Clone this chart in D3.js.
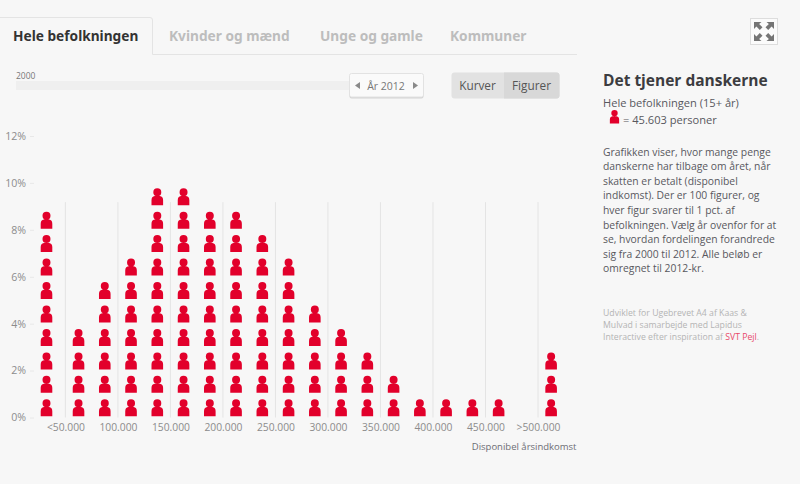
<!DOCTYPE html>
<html lang="da">
<head>
<meta charset="utf-8">
<style>
    html, body { margin: 0; padding: 0; background: #f7f7f7; overflow: hidden; }
    svg { display: block; font-family: "Open Sans", sans-serif; }
    .axis path { display: none; }
    .axis text { fill: #8c8c8c; font-family: "Open Sans", sans-serif; }
    .axis line { stroke: #e8e8e8; }
    .tab { font-family: "Noto Sans", sans-serif; font-size: 13.7px; font-weight: 700; fill: #bdbdbd; }
    .side { fill: #58585e; font-size: 10.35px; }
    .credit { fill: #b4b4b4; font-size: 8.7px; }
</style>
</head>
<body>
<script src="https://d3js.org/d3.v7.min.js"></script>
<script>
    // midpoint of each income bin and how many figures (pct.) stand in it, year 2012
    var binMid = [32000, 62500, 87500, 112500, 137500, 162500, 187500, 212500, 237500, 262500,
                  287500, 312500, 337500, 362500, 387500, 412500, 437500, 462500, 512500];
    var binCount = [9, 4, 6, 7, 10, 10, 9, 9, 8, 7, 5, 4, 3, 2, 1, 1, 1, 1, 3];
    var xTicks = [50000, 100000, 150000, 200000, 250000, 300000, 350000, 400000, 450000, 500000];
    var xLabels = ["<50.000", "100.000", "150.000", "200.000", "250.000", "300.000", "350.000", "400.000", "450.000", ">500.000"];
    var yTicks = [0, 2, 4, 6, 8, 10, 12];
    var tabs = ["Hele befolkningen", "Kvinder og mænd", "Unge og gamle", "Kommuner"];
    var tabX = [13, 169, 320, 450];
    var bodyText = [
        "Grafikken viser, hvor mange penge",
        "danskerne har tilbage om året, når",
        "skatten er betalt (disponibel",
        "indkomst). Der er 100 figurer, og",
        "hver figur svarer til 1 pct. af",
        "befolkningen. Vælg år ovenfor for at",
        "se, hvordan fordelingen forandrede",
        "sig fra 2000 til 2012. Alle beløb er",
        "omregnet til 2012-kr."
    ];
    var creditText = [
        "Udviklet for Ugebrevet A4 af Kaas &",
        "Mulvad i samarbejde med Lapidus"
    ];

    var width = 800, height = 484;
    var svg = d3.select("body").append("svg").attr("width", width).attr("height", height);
    svg.append("rect").attr("width", width).attr("height", height).attr("fill", "#f7f7f7");

    var x = d3.scaleLinear().domain([50000, 500000]).range([65.4, 538]);
    var y = d3.scaleLinear().domain([0, 12]).range([417.5, 136]);

    // person icon, origin at bottom centre
    var person = "M-5.8,0 V-5 Q-5.8,-8.6 -2.6,-9.2 H2.6 Q5.8,-8.6 5.8,-5 V0 Z " +
                 "M-4,-13 A4,4 0 1 1 4,-13 A4,4 0 1 1 -4,-13 Z";

    // tabs
    svg.append("path").attr("d", "M152.5,54.5 H577").attr("stroke", "#e4e4e4").attr("fill", "none");
    svg.append("path").attr("d", "M0,17.5 H150 Q152.5,17.5 152.5,20 V54.5")
        .attr("stroke", "#e4e4e4").attr("fill", "none");
    svg.selectAll(".tab").data(tabs).enter().append("text")
        .attr("class", "tab")
        .attr("x", function(d, i) { return tabX[i]; })
        .attr("y", 41)
        .style("fill", function(d, i) { return i == 0 ? "#333" : null; })
        .text(function(d) { return d; });

    // year slider
    svg.append("rect").attr("x", 16).attr("y", 81).attr("width", 334).attr("height", 9).attr("fill", "#efefef");
    svg.append("text").attr("x", 16).attr("y", 79).attr("font-size", 8.5).attr("fill", "#777").text("2000");
    svg.append("rect").attr("x", 349.5).attr("y", 74.5).attr("width", 74).attr("height", 24).attr("rx", 2)
        .attr("fill", "#d4d4d4");
    svg.append("rect").attr("x", 349.5).attr("y", 73.5).attr("width", 74).attr("height", 23.5).attr("rx", 2)
        .attr("fill", "#fafafa").attr("stroke", "#e2e2e2");
    svg.append("text").attr("x", 386).attr("y", 89.5).attr("text-anchor", "middle")
        .attr("font-size", 10.5).attr("fill", "#777").text("År 2012");
    svg.append("path").attr("d", "M360,82 V89 L355,85.5 Z").attr("fill", "#8a8a8a");
    svg.append("path").attr("d", "M413,82 V89 L418,85.5 Z").attr("fill", "#8a8a8a");

    // Kurver / Figurer toggle
    svg.append("rect").attr("x", 451.5).attr("y", 72.5).attr("width", 108).attr("height", 26).attr("rx", 3).attr("fill", "#e2e2e2");
    svg.append("path").attr("d", "M504,72.5 H556.5 Q559.5,72.5 559.5,75.5 V95.5 Q559.5,98.5 556.5,98.5 H504 Z").attr("fill", "#d8d8d8");
    svg.append("text").attr("x", 477.5).attr("y", 90).attr("text-anchor", "middle").attr("font-size", 11.8).attr("fill", "#555").text("Kurver");
    svg.append("text").attr("x", 531.5).attr("y", 90).attr("text-anchor", "middle").attr("font-size", 11.8).attr("fill", "#555").text("Figurer");

    // axes
    var yAxis = d3.axisLeft(y).tickValues(yTicks).tickSize(4).tickPadding(4)
        .tickFormat(function(d) { return d + "%"; });
    svg.append("g").attr("class", "axis").attr("font-size", 10.6).attr("transform", "translate(34,0)").call(yAxis)
        .attr("font-size", 10.6);

    var xAxis = d3.axisBottom(x).tickValues(xTicks).tickSize(0).tickPadding(6)
        .tickFormat(function(d, i) { return xLabels[i]; });
    svg.append("g").attr("class", "axis").attr("transform", "translate(0,418)").call(xAxis)
        .attr("font-size", 10.3);

    svg.append("g").selectAll("line").data(xTicks).enter().append("line")
        .attr("x1", function(d) { return x(d); })
        .attr("x2", function(d) { return x(d); })
        .attr("y1", y(9.18))
        .attr("y2", y(0))
        .attr("stroke", "#e4e4e4");

    svg.append("text").attr("x", 576.5).attr("y", 449.5).attr("text-anchor", "end")
        .attr("font-size", 9.5).attr("fill", "#6d6d75").text("Disponibel årsindkomst");

    // one figure per percent, stacked in each bin
    var figures = [];
    binMid.forEach(function(mid, b) {
        d3.range(binCount[b]).forEach(function(i) {
            figures.push({ mid: mid, row: i });
        });
    });
    svg.append("g").selectAll("path").data(figures).enter().append("path")
        .attr("d", person)
        .attr("fill", "#e2002b")
        .attr("transform", function(d) {
            return "translate(" + x(d.mid) + "," + (y(d.row) - 1.2) + ")";
        });

    // expand button
    svg.append("rect").attr("x", 750.5).attr("y", 18.5).attr("width", 27).attr("height", 26)
        .attr("fill", "#fbfbfb").attr("stroke", "#ddd");
    [[-1, -1], [1, -1], [-1, 1], [1, 1]].forEach(function(c) {
        var g = svg.append("g").attr("transform", "translate(764,31.5) scale(" + c[0] + "," + c[1] + ")");
        g.append("path").attr("d", "M10,9.5 V2.5 L7.6,4.9 L4.2,1.5 L1.5,4.2 L4.9,7.6 L2.5,9.5 Z")
            .attr("fill", "#757575");
    });

    // side panel
    svg.append("text").attr("x", 603).attr("y", 86).attr("font-size", 15.5).attr("font-weight", 700)
        .attr("fill", "#3c3c40").text("Det tjener danskerne");
    svg.append("text").attr("class", "side").attr("x", 603).attr("y", 107).style("font-size", "11.1px")
        .text("Hele befolkningen (15+ år)");
    svg.append("path").attr("d", person).attr("fill", "#e2002b")
        .attr("transform", "translate(614.5,123.5) scale(0.8)");
    svg.append("text").attr("class", "side").attr("x", 623).attr("y", 124).style("font-size", "11.1px")
        .text("= 45.603 personer");

    svg.selectAll(".body").data(bodyText).enter().append("text")
        .attr("class", "side")
        .attr("x", 603)
        .attr("y", function(d, i) { return 155.5 + i * 14.6; })
        .text(function(d) { return d; });

    svg.selectAll(".cred").data(creditText).enter().append("text")
        .attr("class", "credit")
        .attr("x", 603)
        .attr("y", function(d, i) { return 316 + i * 12; })
        .text(function(d) { return d; });
    var last = svg.append("text").attr("class", "credit").attr("x", 603).attr("y", 340);
    last.append("tspan").text("Interactive efter inspiration af ");
    last.append("tspan").attr("fill", "#e8486a").text("SVT Pejl");
    last.append("tspan").text(".");
</script>
</body>
</html>
